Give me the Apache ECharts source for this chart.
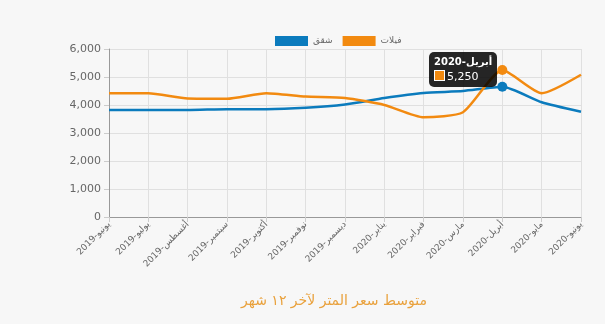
<!DOCTYPE html>
<html>
<head>
<meta charset="utf-8">
<script src="https://cdn.jsdelivr.net/npm/echarts@6/dist/echarts.min.js"></script>
<style>
  html, body { margin: 0; padding: 0; background: #f7f7f7; }
  #chart { width: 605px; height: 324px; }
</style>
</head>
<body>
<div id="chart"></div>
<script>
// Months (Arabic labels)
var months = [
  'يونيو-2019', 'يوليو-2019', 'أغسطس-2019', 'سبتمبر-2019', 'أكتوبر-2019',
  'نوفمبر-2019', 'ديسمبر-2019', 'يناير-2020', 'فبراير-2020', 'مارس-2020',
  'أبريل-2020', 'مايو-2020', 'يونيو-2020'
];
// Average price per metre
var apartments = [3820, 3820, 3820, 3850, 3850, 3900, 4020, 4250, 4430, 4500, 4650, 4100, 3760];
var villas = [4420, 4420, 4230, 4220, 4420, 4300, 4250, 4000, 3560, 3740, 5250, 4420, 5080];
var seriesNames = ['شقق', 'فيلات'];
var chartTitle = 'متوسط سعر المتر لآخر ١٢ شهر';
var highlightIndex = 10;

var BLUE = '#0b7bbd';
var ORANGE = '#f28a10';
var FONT = 'DejaVu Sans';

var chart = echarts.init(document.getElementById('chart'));

function dotSize(v, p) { return p.dataIndex === highlightIndex ? 10 : 0; }

chart.setOption({
  backgroundColor: '#f7f7f7',
  animation: false,
  textStyle: { fontFamily: FONT },
  title: {
    text: chartTitle,
    left: 236,
    top: 289,
    textStyle: { color: '#e9a13c', fontSize: 14, fontWeight: 'normal', fontFamily: FONT }
  },
  legend: {
    top: 31,
    left: 270,
    itemWidth: 33,
    itemHeight: 10,
    itemGap: 10,
    icon: 'rect',
    textStyle: { color: '#666', fontSize: 9, fontFamily: FONT },
    data: seriesNames
  },
  grid: { left: 109, right: 24, top: 49, bottom: 107 },
  tooltip: {
    trigger: 'item',
    alwaysShowContent: true,
    backgroundColor: 'rgba(0,0,0,0.85)',
    borderWidth: 0,
    padding: [3, 5],
    extraCssText: 'border-radius:5px;box-shadow:none;',
    textStyle: { color: '#fff', fontSize: 11, fontFamily: FONT },
    position: function (pt, params, dom, rect, size) {
      return [pt[0] - size.contentSize[0] - 5, pt[1] - size.contentSize[1] / 2 - 1];
    },
    formatter: function (p) {
      return '<div style="font-weight:bold;font-size:10px;line-height:14px;text-align:right;">' + p.name + '</div>' +
        '<div style="font-size:11px;line-height:15px;white-space:nowrap;">' +
        '<span style="display:inline-block;width:9px;height:9px;background:' + ORANGE +
        ';border:1px solid #fff;vertical-align:-1px;margin-right:2px;"></span>' +
        p.value.toLocaleString('en-US') + '</div>';
    }
  },
  xAxis: {
    type: 'category',
    boundaryGap: false,
    data: months,
    axisLine: { lineStyle: { color: '#999' } },
    axisTick: { show: true, length: 5, lineStyle: { color: '#ccc' } },
    axisLabel: { rotate: 45, color: '#666', fontSize: 9, margin: 6, fontFamily: FONT },
    splitLine: { show: true, lineStyle: { color: '#e0e0e0' } }
  },
  yAxis: {
    type: 'value',
    min: 0,
    max: 6000,
    interval: 1000,
    axisLine: { show: true, lineStyle: { color: '#999' } },
    axisTick: { show: true, length: 5, lineStyle: { color: '#ccc' } },
    axisLabel: {
      color: '#666', fontSize: 11, margin: 8, fontFamily: FONT,
      formatter: function (v) { return v.toLocaleString('en-US'); }
    },
    splitLine: { lineStyle: { color: '#e0e0e0' } }
  },
  series: [
    {
      name: seriesNames[0],
      type: 'line',
      data: apartments,
      smooth: 0.2,
      symbol: 'circle',
      symbolSize: dotSize,
      showSymbol: true,
      itemStyle: { color: BLUE },
      lineStyle: { color: BLUE, width: 2.5 },
      z: 2,
      silent: true
    },
    {
      name: seriesNames[1],
      type: 'line',
      data: villas,
      smooth: 0.2,
      symbol: 'circle',
      symbolSize: dotSize,
      showSymbol: true,
      itemStyle: { color: ORANGE },
      lineStyle: { color: ORANGE, width: 2.5 },
      z: 3
    }
  ]
});

chart.dispatchAction({ type: 'showTip', seriesIndex: 1, dataIndex: highlightIndex });
</script>
</body>
</html>
